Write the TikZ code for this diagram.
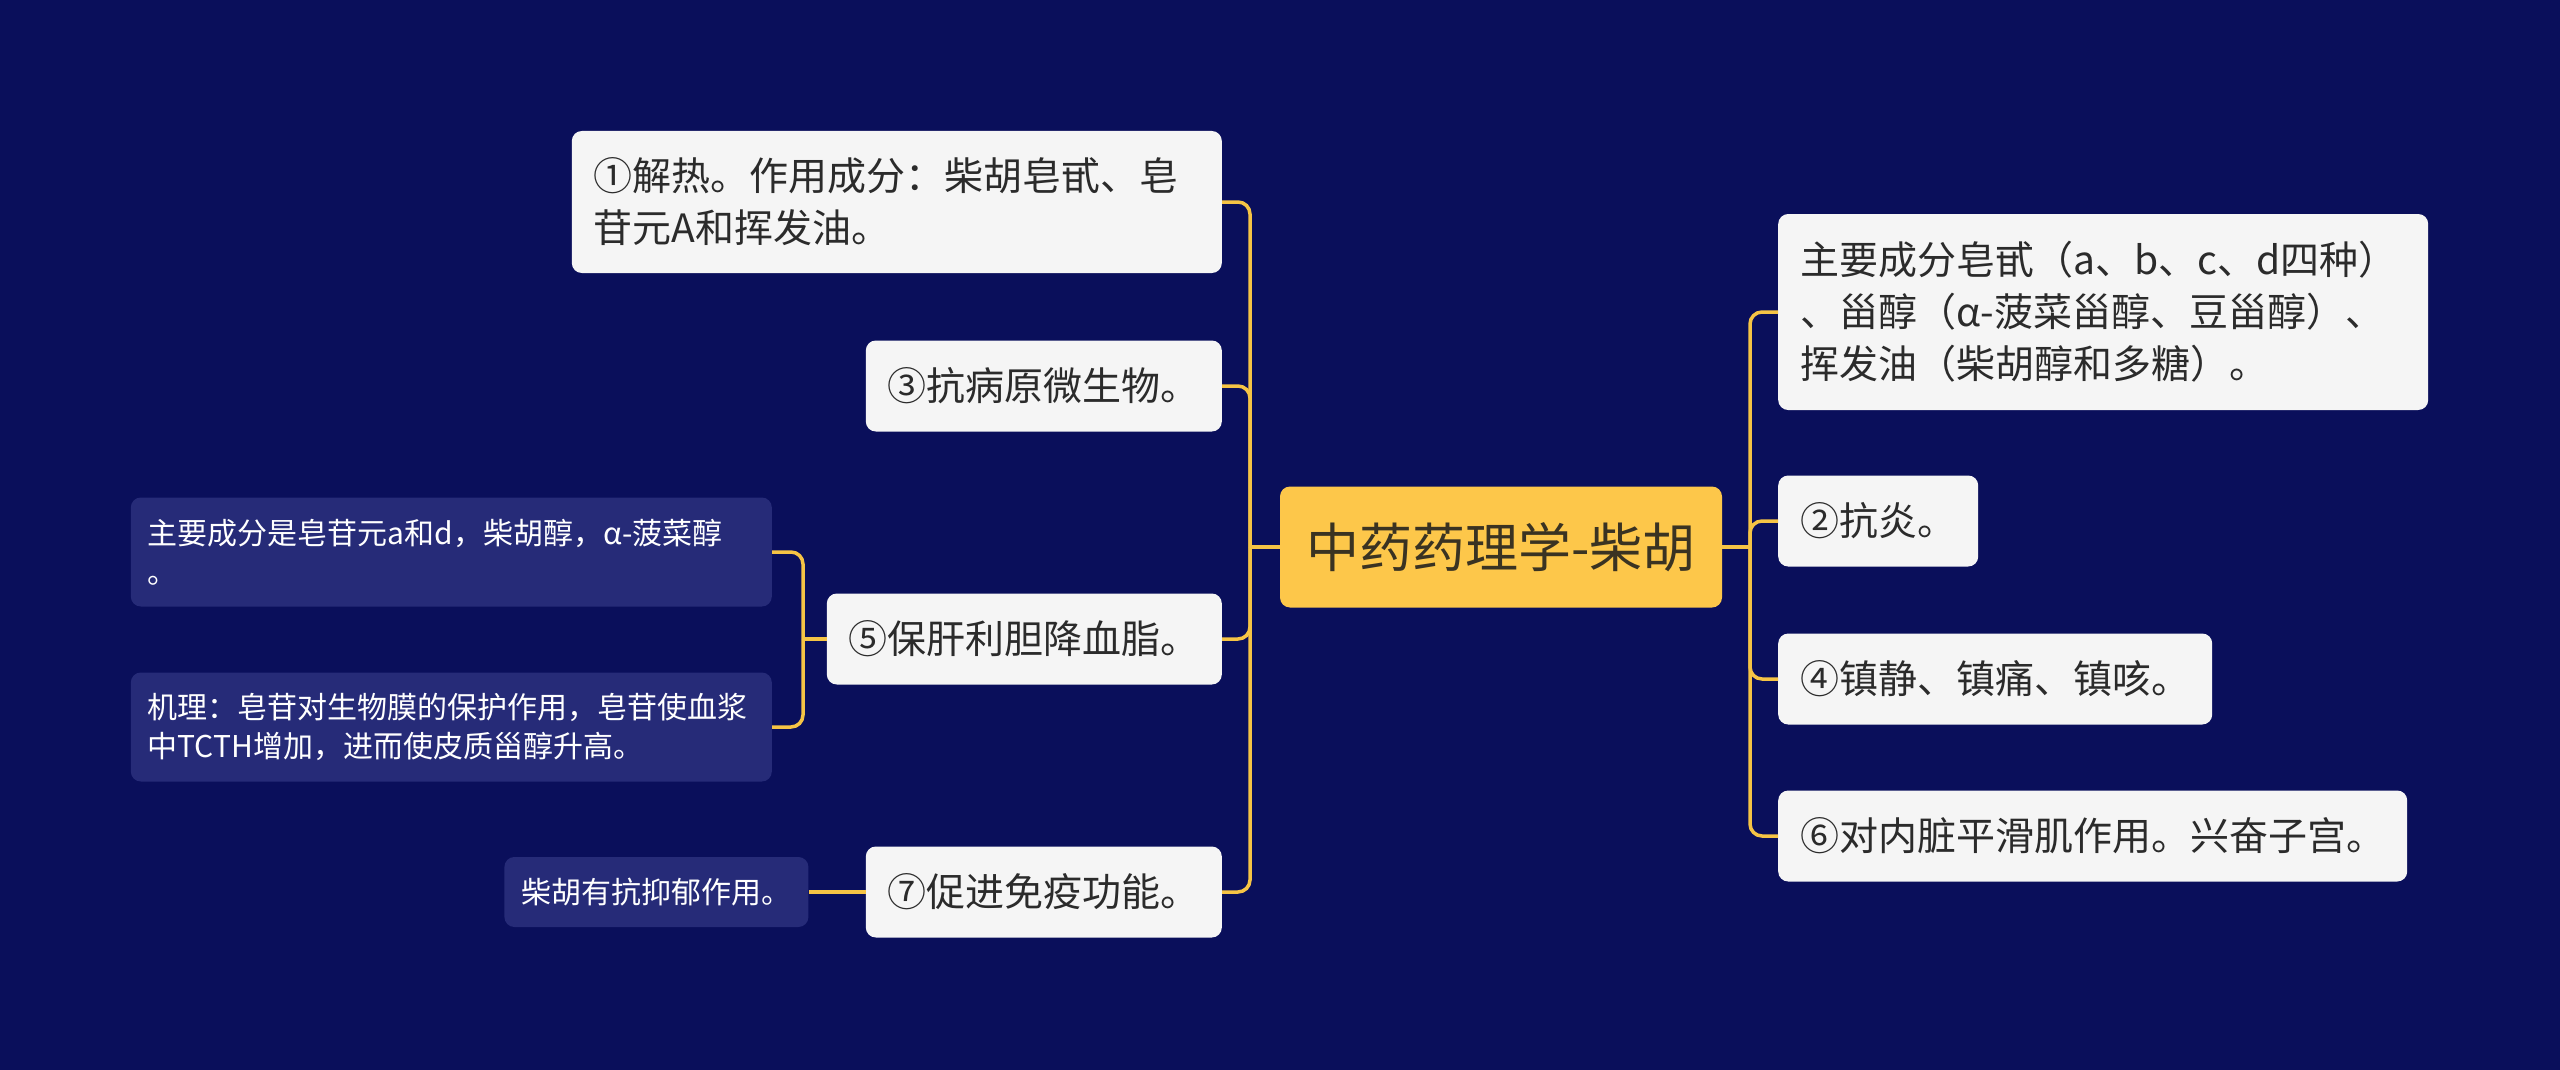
\documentclass[tikz,border=0pt]{standalone}
\usepackage{fontspec}
\setmainfont{Noto Sans CJK SC}
\usepackage{tikz}
\usetikzlibrary{positioning}

\definecolor{navy}{HTML}{0A0F5B}
\definecolor{subblue}{HTML}{262B78}
\definecolor{boxwhite}{HTML}{F5F5F5}
\definecolor{rootyellow}{HTML}{FDC74A}
\definecolor{rootbrown}{HTML}{3A3322}
\definecolor{textdark}{HTML}{2B2B2B}
\definecolor{linkgold}{HTML}{F6C445}

\tikzset{
	item/.style={fill=boxwhite, text=textdark, rounded corners=10pt, font=\fontsize{39}{52}\selectfont, inner xsep=22pt, inner ysep=0pt, minimum height=91pt, align=left},
	subitem/.style={fill=subblue, text=white, rounded corners=10pt, font=\fontsize{30}{39}\selectfont, inner xsep=17pt, inner ysep=0pt, minimum height=70pt, align=left},
	rootbox/.style={fill=rootyellow, text=rootbrown, rounded corners=10pt, font=\fontsize{53}{60}\selectfont, minimum width=442pt, minimum height=121pt},
	link/.style={draw=linkgold, line width=3.5pt, rounded corners=12pt}
}

\begin{document}
\begin{tikzpicture}[x=1pt, y=-1pt]
		\fill [navy] (0,0) rectangle (2560,1070);
		\useasboundingbox (0,0) rectangle (2560,1070);

		\node (root) [rootbox] at (1501,547) {中药药理学-柴胡};

		% right side
		\node (r1) [item, anchor=west, text width=606pt, minimum height=196pt] at (1778,312) {主要成分皂甙（a、b、c、d四种）\\、甾醇（α-菠菜甾醇、豆甾醇）、\\挥发油（柴胡醇和多糖）。};
		\node (r2) [item, anchor=west] at (1778,521) {②抗炎。};
		\node (r3) [item, anchor=west] at (1778,679) {④镇静、镇痛、镇咳。};
		\node (r4) [item, anchor=west] at (1778,836) {⑥对内脏平滑肌作用。兴奋子宫。};

		% left side
		\node (l1) [item, anchor=east, text width=606pt, minimum height=142pt] at (1222,202) {①解热。作用成分：柴胡皂甙、皂\\苷元A和挥发油。};
		\node (l2) [item, anchor=east] at (1222,386) {③抗病原微生物。};
		\node (l3) [item, anchor=east] at (1222,639) {⑤保肝利胆降血脂。};
		\node (l4) [item, anchor=east] at (1222,892) {⑦促进免疫功能。};

		\node (s1) [subitem, anchor=east, text width=607pt, minimum height=109pt] at (772,552) {主要成分是皂苷元a和d，柴胡醇，α-菠菜醇\\。};
		\node (s2) [subitem, anchor=east, text width=607pt, minimum height=109pt] at (772,727) {机理：皂苷对生物膜的保护作用，皂苷使血浆\\中TCTH增加，进而使皮质甾醇升高。};
		\node (s3) [subitem, left = 57pt of l4] {柴胡有抗抑郁作用。};

		\coordinate (jr) at (1750,547);
		\coordinate (jl) at (1250,547);
		\coordinate (j5) at (803,639);

		\path [link]
		(root.east) edge (jr)
		(root.west) edge (jl)
		(l3.west) edge (j5)
		(l4.west) edge (s3.east)
		;
		\foreach \n in {r1, r2, r3, r4}
			\draw [link] (jr) |- (\n.west);
		\foreach \n in {l1, l2, l3, l4}
			\draw [link] (jl) |- (\n.east);
		\foreach \n in {s1, s2}
			\draw [link] (j5) |- (\n.east);
	\end{tikzpicture}
\end{document}
